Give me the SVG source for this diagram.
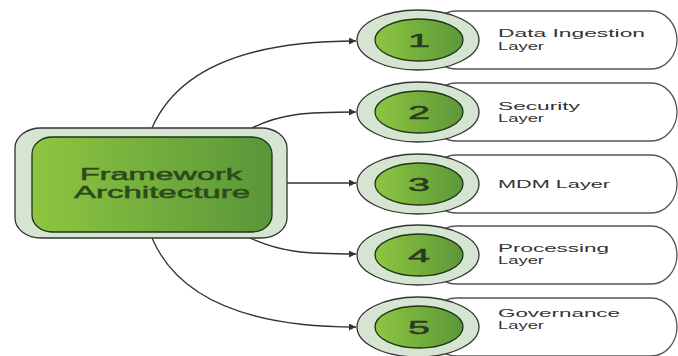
<svg xmlns="http://www.w3.org/2000/svg" width="678" height="356" viewBox="0 0 678 356">
<defs>
<linearGradient id="gInner" x1="0" y1="0" x2="1" y2="0">
<stop offset="0" stop-color="#8ec640"/>
<stop offset="1" stop-color="#5a963a"/>
</linearGradient>
<linearGradient id="gCircle" x1="0" y1="0" x2="1" y2="0">
<stop offset="0" stop-color="#8ec640"/>
<stop offset="1" stop-color="#5b9739"/>
</linearGradient>
<marker id="arr" viewBox="0 0 10 10" refX="10" refY="5" markerWidth="7" markerHeight="7" markerUnits="userSpaceOnUse" orient="auto">
<path d="M0,0 L10,5 L0,10 z" fill="#333"/>
</marker>
<style>
.outer{fill:#d5e5d1;stroke:#333;stroke-width:1.3}
.inner{fill:url(#gInner);stroke:#1f3417;stroke-width:1.3}
.ring{fill:#d5e5d1;stroke:#333;stroke-width:1.3}
.disc{fill:url(#gCircle);stroke:#1f3417;stroke-width:1.3}
.pill{fill:#fff;stroke:#555;stroke-width:1.3}
.conn{fill:none;stroke:#333;stroke-width:1.3;marker-end:url(#arr)}
.ctr{font-family:"Liberation Sans",Arial,sans-serif;font-size:16px;fill:#2c4a1c;stroke:#2c4a1c;stroke-width:0.5}
.num{font-family:"Liberation Sans",Arial,sans-serif;font-size:19px;fill:#2b3a20;stroke:#2b3a20;stroke-width:0.5}
.lbl{font-family:"Liberation Sans",Arial,sans-serif;font-size:11px;fill:#333}
</style>
</defs>
<g id="connectors">
<path class="conn" d="M152,128 Q190,41 356,41"/>
<path class="conn" d="M252,128 C280,114 305,112 356,112"/>
<path class="conn" d="M287,183 L356,183"/>
<path class="conn" d="M250,238 C280,252 305,254 356,254"/>
<path class="conn" d="M152,238 Q190,327 356,327"/>
</g>
<g id="center">
<rect class="outer" x="15" y="128" width="272" height="110" rx="26" ry="20"/>
<rect class="inner" x="32" y="137" width="240" height="95" rx="20" ry="17"/>
<text class="ctr" x="80" y="180" textLength="162" lengthAdjust="spacingAndGlyphs">Framework</text>
<text class="ctr" x="74" y="198" textLength="176" lengthAdjust="spacingAndGlyphs">Architecture</text>
</g>
<g id="layer1">
<rect class="pill" x="430" y="11" width="247" height="58" rx="26" ry="29"/>
<ellipse class="ring" cx="418" cy="40" rx="61" ry="30"/>
<ellipse class="disc" cx="419" cy="40" rx="44" ry="21"/>
<text class="num" x="408" y="47" textLength="22" lengthAdjust="spacingAndGlyphs">1</text>
<text class="lbl" x="498" y="37" textLength="147" lengthAdjust="spacingAndGlyphs">Data Ingestion</text>
<text class="lbl" x="498" y="49.5" textLength="46" lengthAdjust="spacingAndGlyphs">Layer</text>
</g>
<g id="layer2">
<rect class="pill" x="430" y="83" width="247" height="58" rx="26" ry="29"/>
<ellipse class="ring" cx="418" cy="112" rx="61" ry="30"/>
<ellipse class="disc" cx="419" cy="112" rx="44" ry="21"/>
<text class="num" x="408" y="119" textLength="22" lengthAdjust="spacingAndGlyphs">2</text>
<text class="lbl" x="498" y="110" textLength="82" lengthAdjust="spacingAndGlyphs">Security</text>
<text class="lbl" x="498" y="122" textLength="46" lengthAdjust="spacingAndGlyphs">Layer</text>
</g>
<g id="layer3">
<rect class="pill" x="430" y="155" width="247" height="58" rx="26" ry="29"/>
<ellipse class="ring" cx="418" cy="184" rx="61" ry="30"/>
<ellipse class="disc" cx="419" cy="184" rx="44" ry="21"/>
<text class="num" x="408" y="191" textLength="22" lengthAdjust="spacingAndGlyphs">3</text>
<text class="lbl" x="498" y="188" textLength="112" lengthAdjust="spacingAndGlyphs">MDM Layer</text>
</g>
<g id="layer4">
<rect class="pill" x="430" y="226" width="247" height="58" rx="26" ry="29"/>
<ellipse class="ring" cx="418" cy="255" rx="61" ry="30"/>
<ellipse class="disc" cx="419" cy="255" rx="44" ry="21"/>
<text class="num" x="408" y="262" textLength="22" lengthAdjust="spacingAndGlyphs">4</text>
<text class="lbl" x="498" y="252" textLength="111" lengthAdjust="spacingAndGlyphs">Processing</text>
<text class="lbl" x="498" y="264" textLength="46" lengthAdjust="spacingAndGlyphs">Layer</text>
</g>
<g id="layer5">
<rect class="pill" x="430" y="298" width="247" height="58" rx="26" ry="29"/>
<ellipse class="ring" cx="418" cy="327" rx="61" ry="30"/>
<ellipse class="disc" cx="419" cy="327" rx="44" ry="21"/>
<text class="num" x="408" y="334" textLength="22" lengthAdjust="spacingAndGlyphs">5</text>
<text class="lbl" x="498" y="317" textLength="122" lengthAdjust="spacingAndGlyphs">Governance</text>
<text class="lbl" x="498" y="329" textLength="46" lengthAdjust="spacingAndGlyphs">Layer</text>
</g>
</svg>
